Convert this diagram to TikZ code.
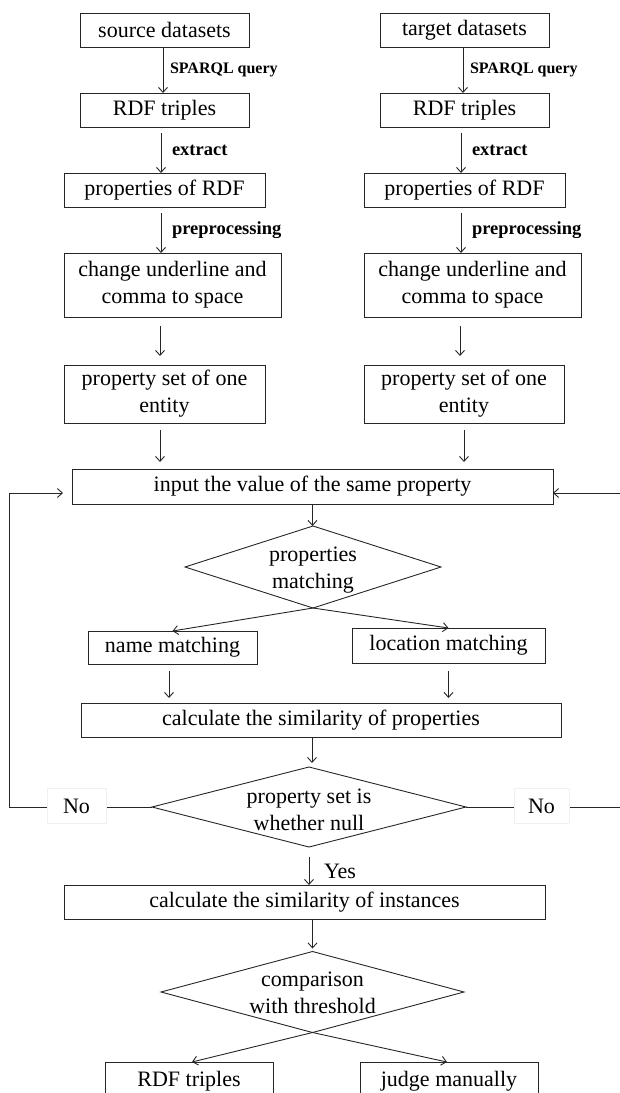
\documentclass[tikz,border=0pt]{standalone}
\usepackage{fontspec}
\setmainfont{Liberation Serif}
\usetikzlibrary{arrows.meta,shapes.geometric,calc}
\newcommand\mytext{\fontsize{22}{27}\selectfont}
\newcommand\mylab{\fontsize{18.5}{22}\selectfont\bfseries}
\newcommand\mylabs{\fontsize{16}{20}\selectfont\bfseries}
\begin{document}
\begin{tikzpicture}[x=1pt,y=-1pt,
  line width=0.9pt,
  every node/.style={inner sep=0pt,outer sep=0pt},
  bx/.style n args={2}{draw=black!85, align=center, font=\mytext, minimum width=#1pt, minimum height=#2pt},
  dia/.style n args={2}{diamond, draw=black!85, minimum width=#1pt, minimum height=#2pt},
  txt/.style={align=center, font=\mytext},
  lab/.style={font=\mylab, anchor=west},
  arr/.style={draw=black!85, -{Straight Barb[length=5pt,width=9pt]}},
  nobox/.style={draw=black!6, fill=white, font=\mytext, minimum height=35pt},
]
\useasboundingbox (0,0) rectangle (620,1093);
\clip (0,0) rectangle (620,1093);

% left column
\node[bx={169}{34}] (srcL) at (164.5,30) {source datasets};
\node[bx={169}{34}] (rdfL) at (164.5,110) {RDF triples};
\node[bx={201}{34}] (propL) at (164.5,190) {properties of RDF};
\node[bx={217}{64}] (chgL) at (172.5,285) {change underline and\\comma to space};
\node[bx={201}{58}] (setL) at (164.5,394) {property set of one\\entity};
% right column
\node[bx={169}{34}] (srcR) at (464.5,30) {target datasets};
\node[bx={169}{34}] (rdfR) at (464.5,110) {RDF triples};
\node[bx={201}{34}] (propR) at (464.5,190) {properties of RDF};
\node[bx={217}{64}] (chgR) at (472.5,285) {change underline and\\comma to space};
\node[bx={200}{58}] (setR) at (464,394) {property set of one\\entity};
% middle
\node[bx={481}{35}] (inp) at (312.5,486.5) {input the value of the same property};
\node[dia={256}{82}] (pm) at (313,567) {};
\node[txt] (pmT) at (313,570) {properties\\matching};
\node[bx={169}{33}] (nm) at (172.5,647.5) {name matching};
\node[bx={193}{35}] (lm) at (448.5,645.5) {location matching};
\node[bx={480}{34}] (cp) at (321,720) {calculate the similarity of properties};
\node[dia={314}{80}] (nul) at (309,807) {};
\node[txt] (nulT) at (309,810) {property set is\\whether null};
\node[bx={481}{34}] (ci) at (304.5,902) {calculate the similarity of instances};
\node[dia={303}{81}] (thr) at (312.5,992) {};
\node[txt] (thrT) at (312.5,993) {comparison\\with threshold};
\node[bx={168}{38}] (ro) at (189,1081) {RDF triples};
\node[bx={178}{38}] (jm) at (449,1081) {judge manually};

% left column arrows
\draw[arr] ([xshift=-1.5pt]srcL.south) -- node[lab,font=\mylabs,xshift=7pt]{SPARQL query} ([xshift=-1.5pt]rdfL.north);
\draw[arr, shorten <=6pt] ([xshift=-3.5pt]rdfL.south) -- node[lab,xshift=11pt]{extract} ([xshift=-3.5pt]propL.north);
\draw[arr, shorten <=6pt] ([xshift=-3.5pt]propL.south) -- node[lab,xshift=11pt]{preprocessing} ([xshift=-3.5pt]propL.south |- chgL.north);
\draw[arr, shorten <=9pt, shorten >=9pt] ([xshift=-12.5pt]chgL.south) -- ([xshift=-12.5pt]chgL.south |- setL.north);
\draw[arr, shorten <=7pt, shorten >=7pt] ([xshift=-4.5pt]setL.south) -- ([xshift=-4.5pt]setL.south |- inp.north);
% right column arrows
\draw[arr] ([xshift=-1.5pt]srcR.south) -- node[lab,font=\mylabs,xshift=7pt]{SPARQL query} ([xshift=-1.5pt]rdfR.north);
\draw[arr, shorten <=6pt] ([xshift=-3.5pt]rdfR.south) -- node[lab,xshift=11pt]{extract} ([xshift=-3.5pt]propR.north);
\draw[arr, shorten <=6pt] ([xshift=-3.5pt]propR.south) -- node[lab,xshift=11pt]{preprocessing} ([xshift=-3.5pt]propR.south |- chgR.north);
\draw[arr, shorten <=9pt, shorten >=9pt] ([xshift=-12.5pt]chgR.south) -- ([xshift=-12.5pt]chgR.south |- setR.north);
\draw[arr, shorten <=7pt, shorten >=7pt] (setR.south) -- (setR.south |- inp.north);
% middle arrows
\draw[arr] (inp.south) -- (inp.south |- pm.north);
\draw[arr] (pm.south) -- (nm.north);
\draw[arr] (pm.south) -- (lm.north);
\draw[arr, shorten <=7pt, shorten >=5pt] ([xshift=-3.5pt]nm.south) -- ([xshift=-3.5pt]nm.south |- cp.north);
\draw[arr, shorten <=8pt, shorten >=5pt] (lm.south) -- (lm.south |- cp.north);
\draw[arr, shorten >=4pt] ([xshift=-9pt]cp.south) -- ([xshift=-9pt]cp.south |- nul.north);
\draw[arr, shorten <=10pt] (nul.south) -- node[lab,font=\mytext,xshift=15pt,yshift=-5pt]{Yes} (nul.south |- ci.north);
\draw[arr, shorten >=3pt] (thr.north |- ci.south) -- (thr.north);
\draw[arr] (thr.south) -- ([xshift=3pt]ro.north);
\draw[arr] (thr.south) -- ([xshift=-2pt]jm.north);

% loops
\coordinate (lc1) at (9,807);
\coordinate (lc2) at (9,493);
\coordinate (rc1) at (621,807);
\coordinate (rc2) at (621,493);
\draw[arr, shorten >=9pt] (nul.west) -- (lc1) -- (lc2) -- ([yshift=-6.5pt]inp.west);
\draw[arr] (nul.east) -- (rc1) -- (rc2) -- ([yshift=-6.5pt]inp.east);
\node[nobox, minimum width=59pt] (noL) at (76.5,806) {No};
\node[nobox, minimum width=55pt] (noR) at (541.5,806) {No};
\end{tikzpicture}
\end{document}
